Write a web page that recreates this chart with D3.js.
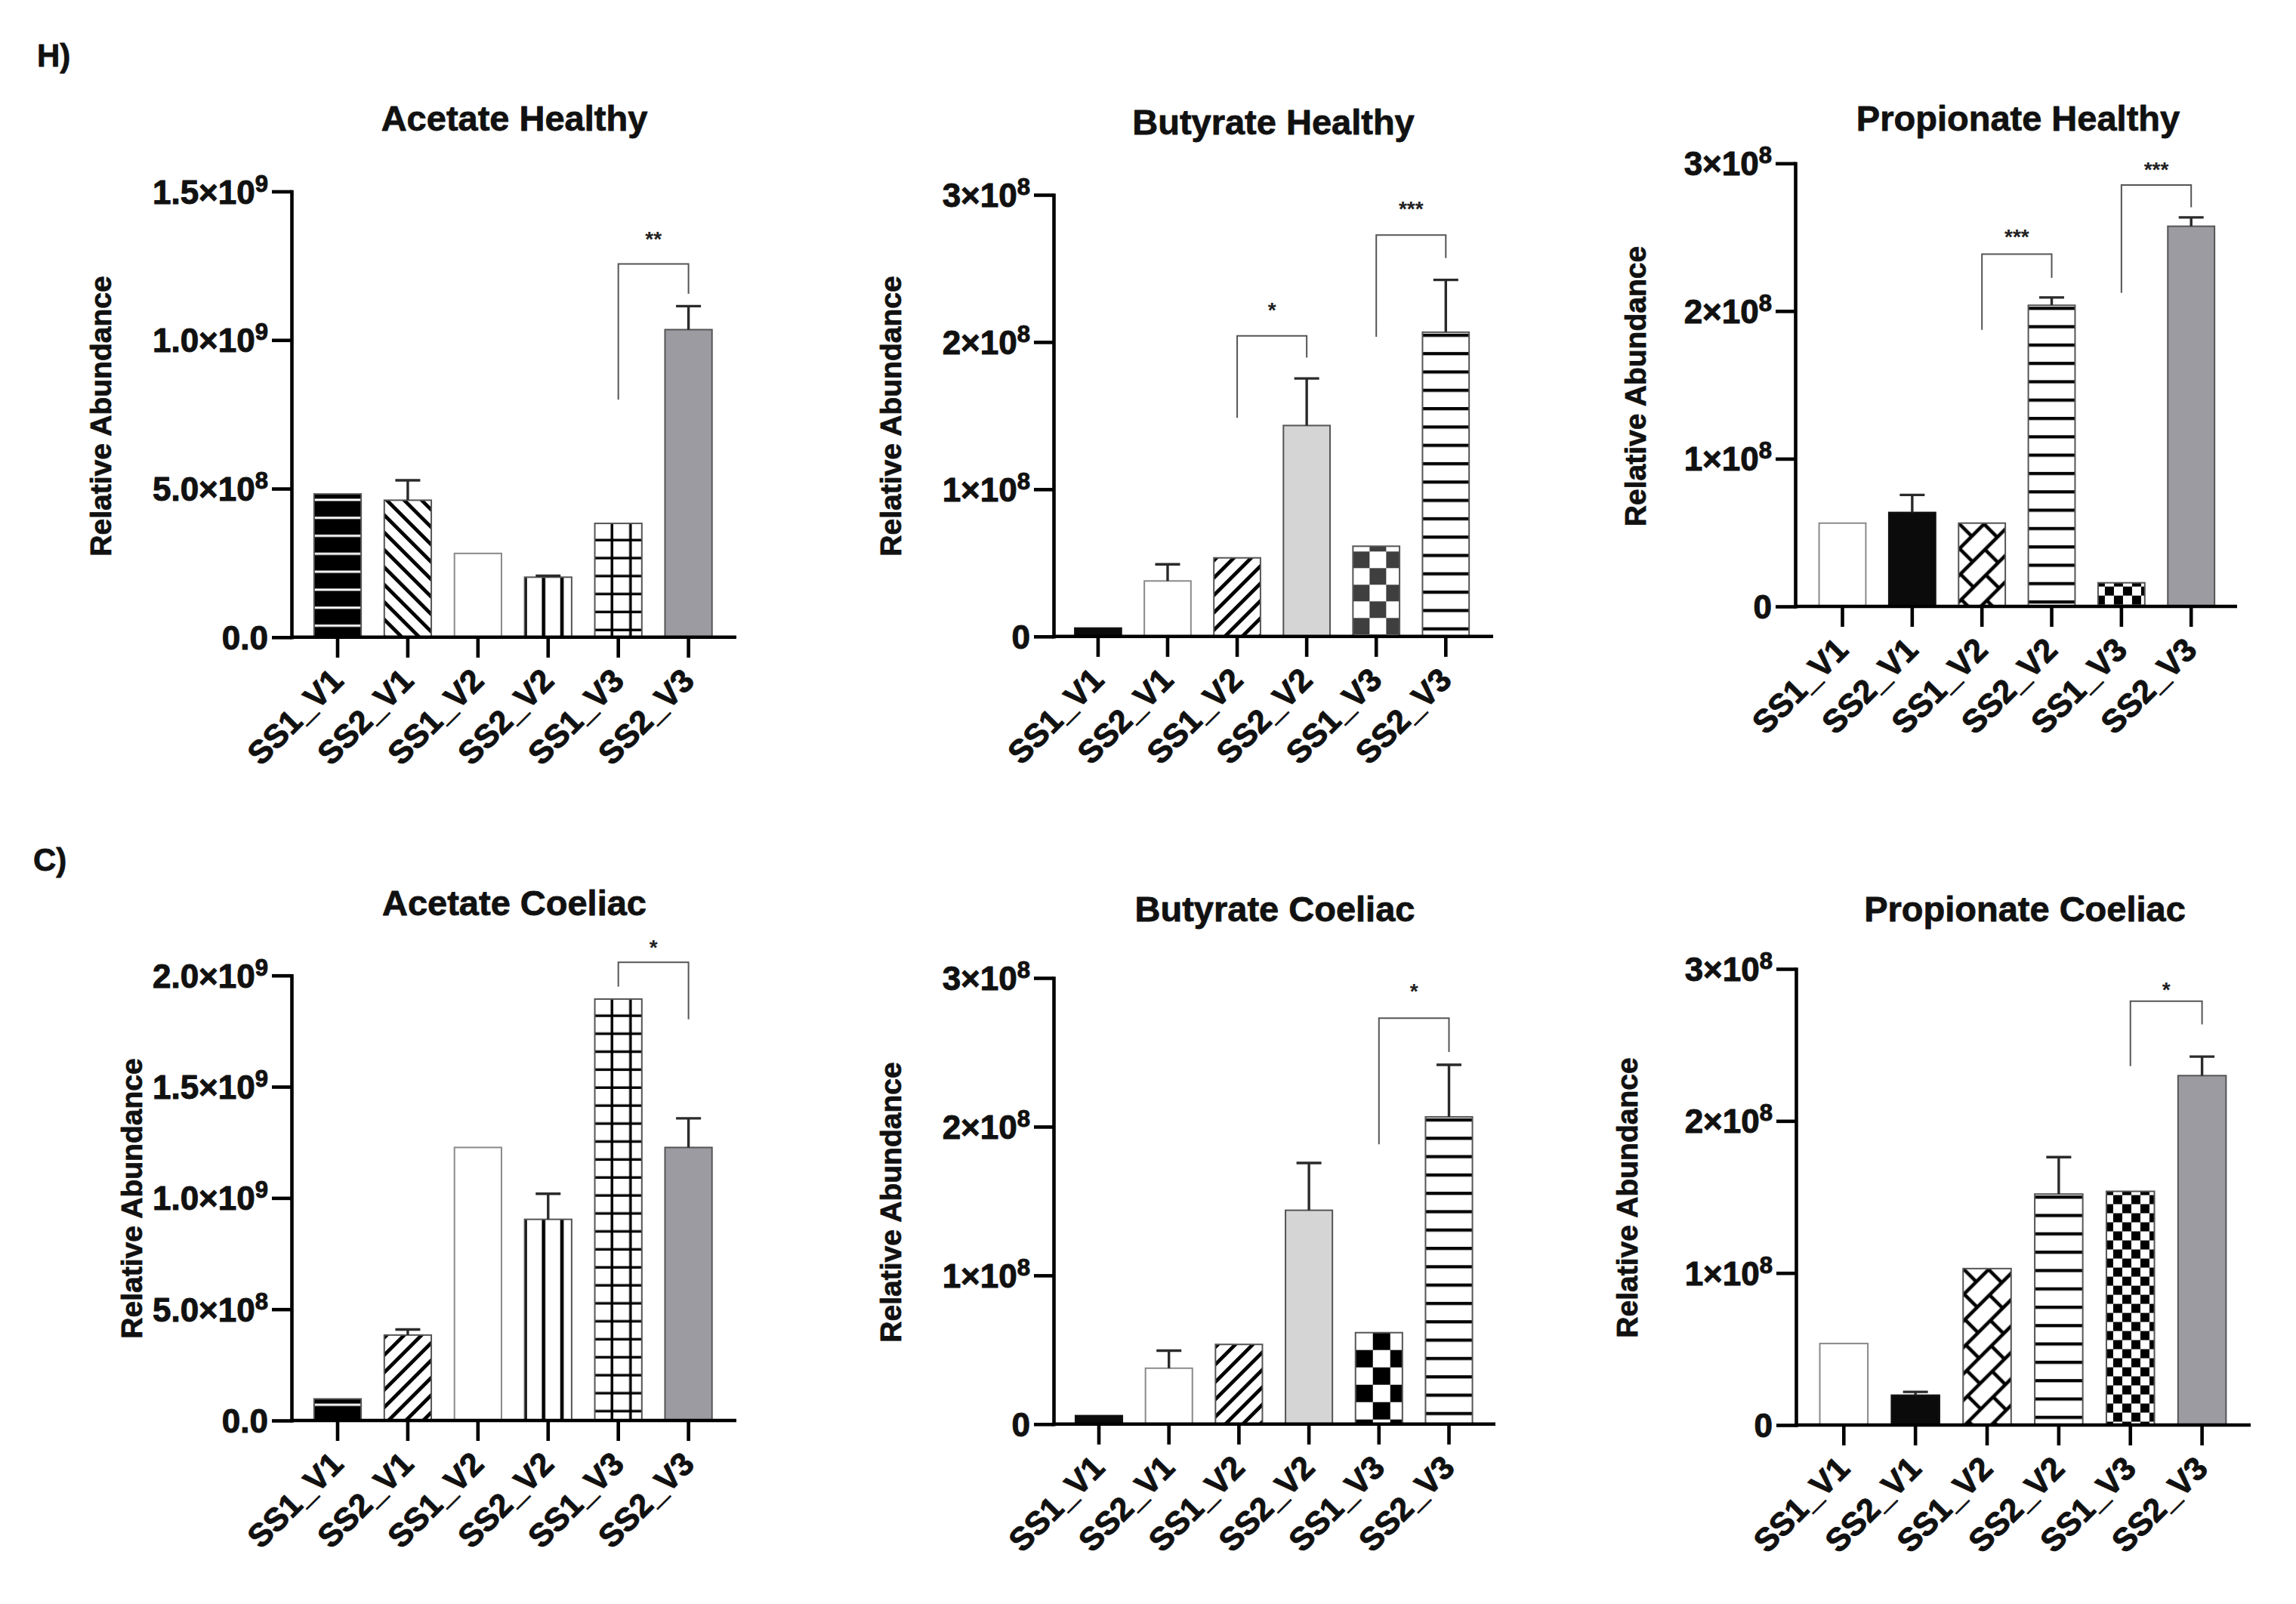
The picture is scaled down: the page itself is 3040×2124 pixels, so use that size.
<!DOCTYPE html>
<html>
<head>
<meta charset="utf-8">
<script src="https://cdn.jsdelivr.net/npm/d3@7"></script>
<style>
html,body{margin:0;padding:0;background:#fff;}
svg{display:block;font-family:"Liberation Sans",Arial,Helvetica,sans-serif;}
</style>
</head>
<body>
<svg id="chart" width="3040" height="2124"></svg>
<script>
// ---------------- DATA ----------------
const categories = ["SS1_V1","SS2_V1","SS1_V2","SS2_V2","SS1_V3","SS2_V3"];

const acetateHealthyMeans  = [4.82e8, 4.61e8, 2.82e8, 2.02e8, 3.83e8, 1.035e9];
const acetateHealthyErrors = [null, 0.67e8, null, 0.05e8, null, 0.79e8];
const butyrateHealthyMeans  = [0.057e8, 0.377e8, 0.534e8, 1.433e8, 0.613e8, 2.067e8];
const butyrateHealthyErrors = [null, 0.113e8, null, 0.32e8, null, 0.355e8];
const propionateHealthyMeans  = [0.564e8, 0.636e8, 0.564e8, 2.039e8, 0.16e8, 2.574e8];
const propionateHealthyErrors = [null, 0.119e8, null, 0.053e8, null, 0.06e8];

const acetateCoeliacMeans  = [0.097e9, 0.384e9, 1.227e9, 0.904e9, 1.894e9, 1.227e9];
const acetateCoeliacErrors = [null, 0.025e9, null, 0.115e9, null, 0.131e9];
const butyrateCoeliacMeans  = [0.057e8, 0.376e8, 0.536e8, 1.438e8, 0.615e8, 2.066e8];
const butyrateCoeliacErrors = [null, 0.118e8, null, 0.318e8, null, 0.35e8];
const propionateCoeliacMeans  = [0.536e8, 0.196e8, 1.029e8, 1.519e8, 1.537e8, 2.298e8];
const propionateCoeliacErrors = [null, 0.022e8, null, 0.243e8, null, 0.125e8];

// y-axis ticks
const acetateHealthyTicks = [0, 5e8, 1e9, 1.5e9];
const acetateHealthyTickLabels = ["0.0", "5.0×10^8", "1.0×10^9", "1.5×10^9"];
const acetateCoeliacTicks = [0, 5e8, 1e9, 1.5e9, 2e9];
const acetateCoeliacTickLabels = ["0.0", "5.0×10^8", "1.0×10^9", "1.5×10^9", "2.0×10^9"];
const e8Ticks = [0, 1e8, 2e8, 3e8];
const e8TickLabels = ["0", "1×10^8", "2×10^8", "3×10^8"];

// significance brackets: [fromIndex, toIndex, leftLegBottom, bracketTop, rightLegBottom, label, labelCentre]
const acetateHealthySig = [[4, 5, 0.799e9, 1.256e9, 1.156e9, "**", 1.357e9]];
const butyrateHealthySig = [[2, 3, 1.486e8, 2.042e8, 1.894e8, "*", 2.25e8],
                            [4, 5, 2.036e8, 2.727e8, 2.57e8, "***", 2.937e8]];
const propionateHealthySig = [[2, 3, 1.873e8, 2.386e8, 2.224e8, "***", 2.537e8],
                              [4, 5, 2.123e8, 2.853e8, 2.703e8, "***", 2.993e8]];
const acetateCoeliacSig = [[4, 5, 1.95e9, 2.059e9, 1.803e9, "*", 2.147e9]];
const butyrateCoeliacSig = [[4, 5, 1.881e8, 2.729e8, 2.502e8, "*", 2.942e8]];
const propionateCoeliacSig = [[4, 5, 2.36e8, 2.788e8, 2.635e8, "*", 2.894e8]];

const titles = ["Acetate Healthy","Butyrate Healthy","Propionate Healthy",
                "Acetate Coeliac","Butyrate Coeliac","Propionate Coeliac"];
const panelLetters = ["H)", "C)"];
const yAxisTitle = "Relative Abundance";

// ---------------- STYLES / LAYOUT ----------------
const fills = [
  ["hstripeBlack","diagDown","white","vlines","grid","gray"],
  ["black","white","diagUp","lightgray","checkerDark","hlines"],
  ["white","black","brick","hlines","checkerSmall","gray"],
  ["hstripeBlack","diagUp","white","vlines","grid","gray"],
  ["black","white","diagUp","lightgray","checkerBlack","hlines"],
  ["white","black","brick","hlines","checkerSmall","gray"]
];
const layout = [
  {ax:386,  base:843.8, top:253.5, c0:447,    c5:911.6,  right:975,  tx:681,  ty:155.5, lx:133,  ly:551},
  {ax:1395, base:842.8, top:258,   c0:1453.9, c5:1914.3, right:1977, tx:1686, ty:161,   lx:1179, ly:551},
  {ax:2377, base:803,   top:216.3, c0:2439.5, c5:2901.2, right:2962, tx:2672, ty:156,   lx:2165, ly:511.5},
  {ax:386,  base:1881,  top:1291.7,c0:447,    c5:911.6,  right:975,  tx:681,  ty:1194.5,lx:174,  ly:1587},
  {ax:1395, base:1885.8,top:1295,  c0:1455,   c5:1918.5, right:1980, tx:1688, ty:1203,  lx:1179, ly:1592},
  {ax:2378, base:1887,  top:1283,  c0:2441.3, c5:2915.6, right:2980, tx:2681, ty:1203,  lx:2154, ly:1586}
];
const letterPos = [[49, 88], [44, 1153]];

const panels = [
  {means: acetateHealthyMeans, errs: acetateHealthyErrors, ticks: acetateHealthyTicks, tickLabels: acetateHealthyTickLabels, sig: acetateHealthySig},
  {means: butyrateHealthyMeans, errs: butyrateHealthyErrors, ticks: e8Ticks, tickLabels: e8TickLabels, sig: butyrateHealthySig},
  {means: propionateHealthyMeans, errs: propionateHealthyErrors, ticks: e8Ticks, tickLabels: e8TickLabels, sig: propionateHealthySig},
  {means: acetateCoeliacMeans, errs: acetateCoeliacErrors, ticks: acetateCoeliacTicks, tickLabels: acetateCoeliacTickLabels, sig: acetateCoeliacSig},
  {means: butyrateCoeliacMeans, errs: butyrateCoeliacErrors, ticks: e8Ticks, tickLabels: e8TickLabels, sig: butyrateCoeliacSig},
  {means: propionateCoeliacMeans, errs: propionateCoeliacErrors, ticks: e8Ticks, tickLabels: e8TickLabels, sig: propionateCoeliacSig}
];

const TEXT = "#111";
const svg = d3.select("#chart");
svg.append("rect").attr("width",3040).attr("height",2124).attr("fill","#fff");
const defs = svg.append("defs");

let patId = 0;
function makeFill(type, bx, by) {
  const solid = {black:"#0b0b0b", white:"#ffffff", gray:"#9c9ba1", lightgray:"#d5d5d5"};
  if (solid[type]) return solid[type];
  const id = "p" + (patId++);
  const p = defs.append("pattern").attr("id", id).attr("patternUnits","userSpaceOnUse");
  const bg = (w,h,c) => p.append("rect").attr("x",0).attr("y",0).attr("width",w).attr("height",h).attr("fill",c||"#fff");
  const r = (x,y,w,h,c) => p.append("rect").attr("x",x).attr("y",y).attr("width",w).attr("height",h).attr("fill",c||"#000");
  if (type === "hstripeBlack") {
    p.attr("width",20).attr("height",23.8).attr("patternTransform",`translate(${bx},${by})`);
    bg(20,23.8,"#000"); r(0,6.3,20,3,"#fff");
  } else if (type === "diagDown" || type === "diagUp") {
    p.attr("width",16.3).attr("height",20)
     .attr("patternTransform",`translate(${bx},${by}) rotate(${type==="diagDown"?-45:45})`);
    bg(16.3,20); r(0,0,4.8,20);
  } else if (type === "vlines") {
    p.attr("width",24.3).attr("height",10).attr("patternTransform",`translate(${bx-1.5},${by})`);
    bg(24.3,10); r(0,0,4.6,10);
  } else if (type === "grid") {
    p.attr("width",24.5).attr("height",23.8).attr("patternTransform",`translate(${bx},${by})`);
    bg(24.5,23.8); r(21,0,4.8,23.8); r(0,20.4,24.5,4.8);
  } else if (type === "hlines") {
    p.attr("width",10).attr("height",24.3).attr("patternTransform",`translate(${bx},${by})`);
    bg(10,24.3); r(0,2,10,4.2);
  } else if (type === "checkerSmall") {
    p.attr("width",24).attr("height",24).attr("patternTransform",`translate(${bx+9},${by+5})`);
    bg(24,24); r(0,0,12,12); r(12,12,12,12);
  } else if (type === "checkerDark") {
    p.attr("width",44).attr("height",44).attr("patternTransform",`translate(${bx},${by+7})`);
    bg(44,44); r(0,0,22,22,"#3f3f3f"); r(22,22,22,22,"#3f3f3f");
  } else if (type === "checkerBlack") {
    p.attr("width",46).attr("height",46).attr("patternTransform",`translate(${bx},${by})`);
    bg(46,46); r(23,0,23,23); r(0,23,23,23);
  } else if (type === "brick") {
    const a = 24.7, b = 46;
    p.attr("width",b).attr("height",2*a).attr("patternTransform",`translate(${bx},${by}) rotate(-45)`);
    bg(b,2*a); r(0,-2.3,b,4.6); r(0,a-2.3,b,4.6); r(0,2*a-2.3,b,4.6);
    r(-2.3,0,4.6,a); r(b-2.3,0,4.6,a); r(b/2-2.3,a,4.6,a);
  }
  return `url(#${id})`;
}

function tickText(sel, label) {
  const parts = label.split("^");
  sel.append("tspan").text(parts[0]);
  if (parts.length > 1) {
    sel.append("tspan").attr("dy",-16).attr("font-size",31).text(parts[1]);
  }
}
function heavy(sel, w) {
  return sel.attr("stroke",TEXT).attr("stroke-width",w).attr("paint-order","stroke").attr("stroke-linejoin","round");
}

panelLetters.forEach((t,i) => {
  heavy(svg.append("text").attr("x",letterPos[i][0]).attr("y",letterPos[i][1])
    .attr("font-size",42).attr("font-weight","bold").attr("fill",TEXT).text(t), 0.8);
});

panels.forEach((pd, pi) => {
  const L = layout[pi];
  const g = svg.append("g");
  const step = (L.c5 - L.c0) / 5;
  const x = d3.scaleBand().domain(categories)
    .range([L.c0 - step/2, L.c5 + step/2]).paddingInner(0.33).paddingOuter(0.165);
  const topVal = pd.ticks[pd.ticks.length-1];
  const y = d3.scaleLinear().domain([0, topVal]).range([L.base, L.top]);
  const bw = x.bandwidth();

  heavy(g.append("text").attr("x",L.tx).attr("y",L.ty + 17).attr("text-anchor","middle")
    .attr("font-size",47).attr("font-weight","bold").attr("fill",TEXT).text(titles[pi]), 0.8);

  heavy(g.append("text").attr("transform",`translate(${L.lx + 14},${L.ly}) rotate(-90)`)
    .attr("text-anchor","middle").attr("font-size",39).attr("font-weight","bold")
    .attr("fill",TEXT).text(yAxisTitle), 0.8);

  categories.forEach((c, i) => {
    const v = pd.means[i];
    const bx = x(c), by = y(v);
    const type = fills[pi][i];
    const fill = makeFill(type, bx, by);
    const stroke = type === "black" ? "#111" : (type === "white" ? "#8a8a8a" : "#555");
    g.append("rect").attr("x",bx).attr("y",by).attr("width",bw).attr("height",L.base - by)
      .attr("fill",fill).attr("stroke",stroke).attr("stroke-width",2);
  });

  categories.forEach((c, i) => {
    const e = pd.errs[i];
    if (e == null) return;
    const cx = x(c) + bw/2;
    const y0 = y(pd.means[i]), y1 = y(pd.means[i] + e);
    g.append("line").attr("x1",cx).attr("x2",cx).attr("y1",y0).attr("y2",y1)
      .attr("stroke","#2a2a2a").attr("stroke-width",3.4);
    g.append("line").attr("x1",cx-16.5).attr("x2",cx+16.5).attr("y1",y1).attr("y2",y1)
      .attr("stroke","#2a2a2a").attr("stroke-width",3.4);
  });

  pd.sig.forEach(s => {
    const xa = x(categories[s[0]]) + bw/2, xb = x(categories[s[1]]) + bw/2;
    g.append("path")
      .attr("d",`M${xa},${y(s[2])}V${y(s[3])}H${xb}V${y(s[4])}`)
      .attr("fill","none").attr("stroke","#555").attr("stroke-width",2);
    g.append("text").attr("x",(xa+xb)/2).attr("y",y(s[6]) + 16).attr("text-anchor","middle")
      .attr("font-size",28).attr("font-weight","bold").attr("fill","#222").text(s[5]);
  });

  const yAxis = d3.axisLeft(y).tickValues(pd.ticks).tickSize(26).tickSizeOuter(0).tickFormat("");
  const ya = g.append("g").attr("transform",`translate(${L.ax},0)`).call(yAxis);
  ya.selectAll("path,line").attr("stroke","#000").attr("stroke-width",4.6);
  ya.select("path.domain").attr("stroke-linecap","square");
  pd.ticks.forEach((t, k) => {
    const tx = g.append("text").attr("x", L.ax - 31).attr("y", y(t) + 16)
      .attr("text-anchor","end").attr("font-size",44).attr("font-weight","bold").attr("fill",TEXT);
    heavy(tx, 1);
    tickText(tx, pd.tickLabels[k]);
  });

  g.append("line").attr("x1",L.ax).attr("x2",L.right).attr("y1",L.base).attr("y2",L.base)
    .attr("stroke","#000").attr("stroke-width",4.6);
  const xAxis = d3.axisBottom(x).tickSize(27).tickSizeOuter(0).tickFormat("");
  const xa = g.append("g").attr("transform",`translate(0,${L.base})`).call(xAxis);
  xa.select("path.domain").remove();
  xa.selectAll("line").attr("stroke","#000").attr("stroke-width",4.6);
  categories.forEach(c => {
    const cx = x(c) + bw/2;
    heavy(g.append("text").attr("transform",`translate(${cx + 10},${L.base + 60}) rotate(-45)`)
      .attr("text-anchor","end").attr("font-size",43).attr("font-weight","bold")
      .attr("fill",TEXT).text(c), 1);
  });
});
</script>
</body>
</html>
